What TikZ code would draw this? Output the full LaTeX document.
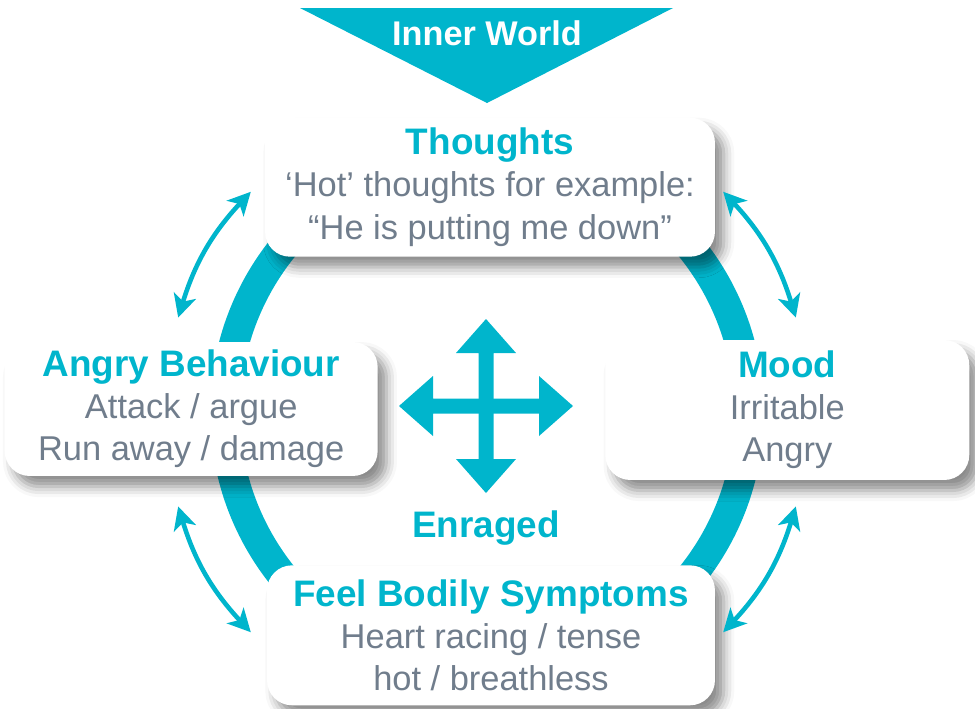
\documentclass[tikz,border=0pt]{standalone}
\usepackage{fontspec}
\setmainfont{Liberation Sans}
\usetikzlibrary{positioning,arrows.meta,shadows.blur}
\definecolor{mindteal}{RGB}{0,181,204}
\definecolor{mindgray}{RGB}{112,125,140}
\newcommand\boxtitle[1]{{\fontsize{21}{25}\selectfont\bfseries\color{mindteal}#1}}

\begin{document}
\begin{tikzpicture}[x=0.02cm, y=0.02cm,
    box/.style={fill=white, rounded corners=0.5cm, align=center, inner sep=0pt,
        text=mindgray, font=\fontsize{19.6}{24}\selectfont,
        blur shadow={shadow xshift=5pt, shadow yshift=-6pt, shadow blur radius=6pt, shadow opacity=45}},
    head/.style={font=\fontsize{21}{25}\selectfont\bfseries, text=mindteal},
    swing/.style={mindteal, line width=2.6pt,
        {Stealth[length=13pt,width=13pt,inset=3.5pt]}-{Stealth[length=13pt,width=13pt,inset=3.5pt]}},
    ]
    \useasboundingbox (0,0) rectangle (975,-708);
    \coordinate (hub) at (487,-412);
    \draw [mindteal, line width=17pt] (hub) circle [radius=5.24cm];

    \node [box, minimum width=9cm, minimum height=2.78cm, above=3.1cm of hub, xshift=0.06cm] (thoughts)
        {\boxtitle{Thoughts}\\ ‘Hot’ thoughts for example:\\ “He is putting me down”};
    \node [box, minimum width=7.46cm, minimum height=2.68cm, left=2.18cm of hub, yshift=0.06cm] (behaviour)
        {\boxtitle{Angry Behaviour}\\ Attack / argue\\ Run away / damage};
    \node [box, minimum width=7.28cm, minimum height=2.8cm, right=2.36cm of hub, yshift=0.04cm] (mood)
        {\boxtitle{Mood}\\ Irritable\\ Angry};
    \node [box, minimum width=8.96cm, minimum height=2.8cm, below=3.06cm of hub, xshift=0.08cm] (body)
        {\boxtitle{Feel Bodily Symptoms}\\ Heart racing / tense\\ hot / breathless};

    \foreach \a/\b [count=\i] in {137/163, 17/43, 197/223, 317/343} {
        \coordinate (sw\i a) at ([shift={(\a:6.46cm)}]hub);
        \coordinate (sw\i b) at ([shift={(\b:6.46cm)}]hub);
        \draw [swing] (sw\i a) to [bend right=13] (sw\i b);
    }

    \coordinate (cross) at (486,-406);
    \foreach \r in {0,90,180,270}
        \fill [mindteal, shift={(cross)}, rotate=\r]
            (0,-7.5) -- (53,-7.5) -- (53,-30) -- (87,0) -- (53,30) -- (53,7.5) -- (0,7.5) -- cycle;
    \node [head, anchor=base] (enraged) at (486,-537) {Enraged};

    \fill [mindteal] (300,-8) -- (673,-8) -- (487,-103) -- cycle;
    \node [head, font=\fontsize{19.5}{24}\selectfont\bfseries, text=white, anchor=base] (inner) at (487,-45) {Inner World};
\end{tikzpicture}
\end{document}
